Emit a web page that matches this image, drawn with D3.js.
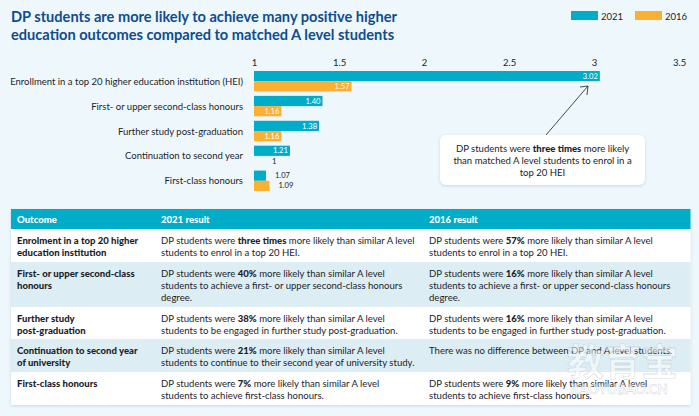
<!DOCTYPE html>
<html>
<head>
<meta charset="utf-8">
<script src="https://cdn.jsdelivr.net/npm/d3@7"></script>
<style>
  body { margin: 0; background: #eef7fb; }
  svg { display: block; }
  text { font-family: Lato, sans-serif; fill: #1d1d2b; }
</style>
</head>
<body>
<div id="chart"></div>
<script>
// Chart data
var categories = [
  'Enrollment in a top 20 higher education institution (HEI)',
  'First- or upper second-class honours',
  'Further study post-graduation',
  'Continuation to second year',
  'First-class honours'
];
var years = ['2021', '2016'];
var values2021 = [3.02, 1.40, 1.38, 1.21, 1.07];
var values2016 = [1.57, 1.16, 1.16, 1, 1.09];
var tickLabels = [1, 1.5, 2, 2.5, 3, 3.5];
var titleLines = [
  'DP students are more likely to achieve many positive higher',
  'education outcomes compared to matched A level students'
];
var noteLines = [
  'DP students were **three times** more likely',
  'than matched A level students to enrol in a',
  'top 20 HEI'
];

// Table text, ** marks bold
var tableHeader = ['Outcome', '2021 result', '2016 result'];
var outcomes = [
  ['Enrolment in a top 20 higher', 'education institution'],
  ['First- or upper second-class', 'honours'],
  ['Further study', 'post-graduation'],
  ['Continuation to second year', 'of university'],
  ['First-class honours']
];
var results2021 = [
  ['DP students were **three times** more likely than similar A level', 'students to enrol in a top 20 HEI.'],
  ['DP students were **40%** more likely than similar A level', 'students to achieve a first- or upper second-class honours', 'degree.'],
  ['DP students were **38%** more likely than similar A level', 'students to be engaged in further study post-graduation.'],
  ['DP students were **21%** more likely than similar A level', 'students to continue to their second year of university study.'],
  ['DP students were **7%** more likely than similar A level', 'students to achieve first-class honours.']
];
var results2016 = [
  ['DP students were **57%** more likely than similar A level', 'students to enrol in a top 20 HEI.'],
  ['DP students were **16%** more likely than similar A level', 'students to achieve a first- or upper second-class honours', 'degree.'],
  ['DP students were **16%** more likely than similar A level', 'students to be engaged in further study post-graduation.'],
  ['There was no difference between DP and A level students.'],
  ['DP students were **9%** more likely than similar A level', 'students to achieve first-class honours.']
];

var w = 699, h = 416;
var teal = '#00acc8', orange = '#fbb034', navy = '#0f4c8f', bodySize = 9.55;
var color = d3.scaleOrdinal().domain(years).range([teal, orange]);

var svg = d3.select('#chart').append('svg').attr('width', w).attr('height', h);

// Soft shadow for the white panels
var shadow = svg.append('defs').append('filter').attr('id', 'soft')
  .attr('x', '-5%').attr('y', '-5%').attr('width', '110%').attr('height', '115%');
shadow.append('feDropShadow').attr('dx', 0).attr('dy', 1).attr('stdDeviation', 1.5)
  .attr('flood-color', '#9fb8c4').attr('flood-opacity', 0.5);

// Writes a line with **bold** parts as tspans
function richLine(sel, line) {
  line.split('**').forEach(function(part, i) {
    sel.append('tspan').attr('font-weight', i % 2 ? 900 : 400).text(part);
  });
}

// Title
svg.append('g').selectAll('text').data(titleLines).join('text')
  .attr('x', 11).attr('y', function(d, i) { return 22 + i * 17.5; })
  .attr('font-size', 14.6).attr('font-weight', 700)
  .style('fill', navy).text(function(d) { return d; });

// Legend
var legend = svg.append('g').selectAll('g').data(years).join('g')
  .attr('transform', function(d, i) { return 'translate(' + (571 + i * 64) + ',11)'; });
legend.append('rect').attr('width', 27).attr('height', 9).attr('fill', function(d) { return color(d); });
legend.append('text').attr('x', 30).attr('y', 8.5).attr('font-size', 9.5).text(function(d) { return d; });

// Scales. The printed bars run a touch longer than the tick labels' spacing
var x = d3.scaleLinear().domain([1, 3.5]).range([254, 682]);
var xAxisScale = d3.scaleLinear().domain([1, 3.5]).range([254, 679]);
var y = d3.scaleBand().domain(categories).range([71, 191]).paddingInner(0.18);
var yInner = d3.scaleBand().domain(years).range([0, y.bandwidth()]);

// Axis: labels only
var axis = svg.append('g').attr('transform', 'translate(0,66)')
  .call(d3.axisTop(xAxisScale).tickValues(tickLabels).tickSize(0).tickPadding(0).tickFormat(function(d) { return d; }));
axis.select('.domain').remove();
axis.selectAll('text').attr('font-size', 9.5).attr('font-family', 'Lato, sans-serif');

// Category labels
svg.append('g').selectAll('text').data(categories).join('text')
  .attr('x', 243).attr('y', function(d) { return y(d) + y.bandwidth() / 2 + 3.5; })
  .attr('text-anchor', 'end').attr('font-size', 9.5)
  .text(function(d) { return d; });

// Bars and value labels
var rows = categories.map(function(c, i) {
  return [
    { category: c, year: years[0], value: values2021[i] },
    { category: c, year: years[1], value: values2016[i] }
  ];
});
var barGroups = svg.append('g').selectAll('g').data(rows).join('g')
  .attr('transform', function(d) { return 'translate(0,' + y(d[0].category) + ')'; });

barGroups.selectAll('rect').data(function(d) { return d; }).join('rect')
  .attr('x', x(1))
  .attr('y', function(d) { return yInner(d.year); })
  .attr('width', function(d) { return x(d.value) - x(1); })
  .attr('height', yInner.bandwidth())
  .attr('fill', function(d) { return color(d.year); });

barGroups.selectAll('text').data(function(d) { return d; }).join('text')
  .attr('x', function(d) {
    if (d.value === 1) return x(d.value) + 18;
    return d.value < 1.1 ? x(d.value) + 9 : x(d.value) - 2;
  })
  .attr('y', function(d) { return yInner(d.year) + yInner.bandwidth() / 2 + 2.6; })
  .attr('text-anchor', function(d) { return d.value < 1.1 ? 'start' : 'end'; })
  .attr('font-size', 7.6)
  .style('fill', function(d) { return d.value < 1.1 ? '#1d1d2b' : '#fff'; })
  .text(function(d) { return d.value === 1 ? '1' : d3.format('.2f')(d.value); });

// Callout with arrow
svg.append('rect').attr('x', 440).attr('y', 135).attr('width', 205).attr('height', 50)
  .attr('rx', 6).attr('fill', '#fff').attr('filter', 'url(#soft)');
svg.append('path').attr('d', 'M546,135L588,86').attr('stroke', '#1d1d2b').attr('stroke-width', 0.8).attr('fill', 'none');
svg.append('path').attr('d', 'M580,87L588,86L587,95').attr('stroke', '#1d1d2b').attr('stroke-width', 0.8).attr('fill', 'none');
svg.append('g').selectAll('text').data(noteLines).join('text')
  .attr('x', 542.5).attr('y', function(d, i) { return 152 + i * 12; })
  .attr('text-anchor', 'middle').attr('font-size', bodySize)
  .each(function(d) { richLine(d3.select(this), d); });

// Table
var colX = [17, 161, 429];
var rowTops = [229, 262, 307, 339, 372, 405];
svg.append('rect').attr('x', 11).attr('y', 209).attr('width', 679.5).attr('height', 196)
  .attr('fill', '#fff').attr('filter', 'url(#soft)');
svg.append('rect').attr('x', 11).attr('y', 209).attr('width', 679.5).attr('height', 20).attr('fill', teal);
svg.append('g').selectAll('text').data(tableHeader).join('text')
  .attr('x', function(d, i) { return colX[i]; }).attr('y', 223)
  .attr('font-size', bodySize).attr('font-weight', 900)
  .style('fill', '#fff').text(function(d) { return d; });

var tableRows = svg.append('g').selectAll('g').data(outcomes).join('g')
  .attr('transform', function(d, i) { return 'translate(0,' + rowTops[i] + ')'; });
tableRows.append('rect')
  .attr('x', 11).attr('width', 679.5)
  .attr('height', function(d, i) { return rowTops[i + 1] - rowTops[i]; })
  .attr('fill', function(d, i) { return i % 2 ? '#dcedf4' : '#fff'; });

tableRows.each(function(d, i) {
  var cells = [
    d.map(function(line) { return '**' + line + '**'; }),
    results2021[i],
    results2016[i]
  ];
  var row = d3.select(this);
  cells.forEach(function(lines, c) {
    row.append('g').selectAll('text').data(lines).join('text')
      .attr('x', colX[c]).attr('y', function(l, k) { return 14.5 + k * 12; })
      .attr('font-size', bodySize)
      .each(function(l) { richLine(d3.select(this), l); });
  });
});

// Watermark over the bottom right corner
var mark = svg.append('g').attr('fill', '#fff').attr('fill-opacity', 0.5)
  .attr('stroke', '#b9c2c7').attr('stroke-width', 0.3);
mark.append('text').attr('x', 567).attr('y', 376).attr('font-size', 37).attr('font-weight', 700)
  .style('font-family', '"Noto Sans CJK SC"').style('fill', 'inherit').text('教育宝');
mark.append('text').attr('x', 569).attr('y', 394).attr('font-size', 13.5).attr('font-weight', 700)
  .style('fill', 'inherit').text('JIAOYUBAO.CN');
</script>
</body>
</html>
